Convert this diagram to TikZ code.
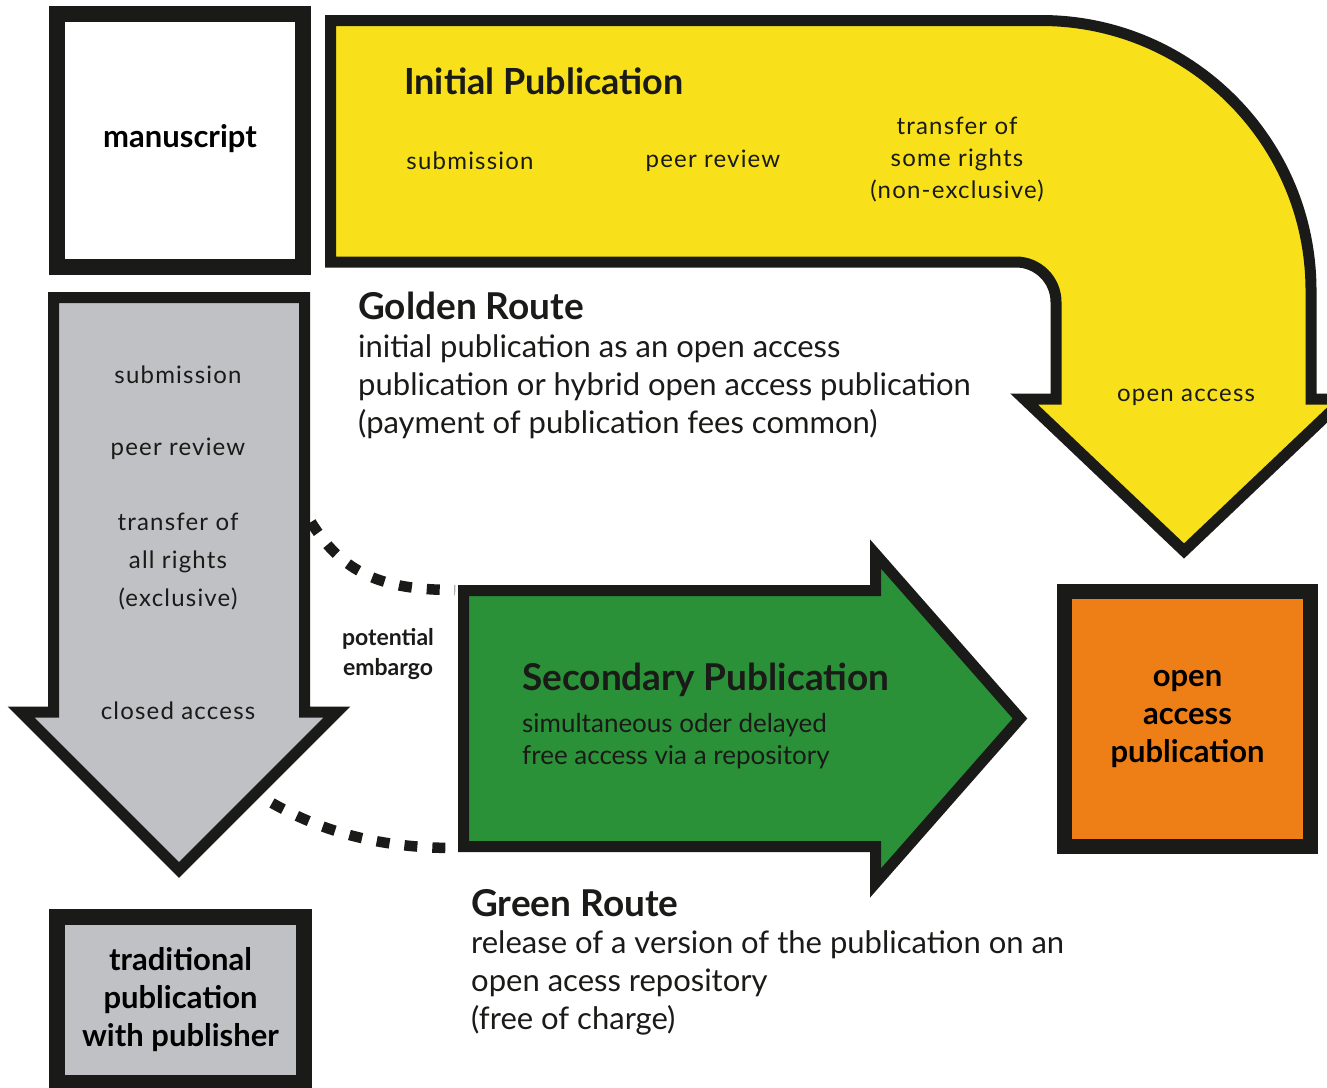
\documentclass[tikz,border=0pt]{standalone}
\usepackage{fontspec}
\setmainfont{Lato}
\usetikzlibrary{positioning}

\definecolor{oayellow}{HTML}{F8E11B}
\definecolor{oagreen}{HTML}{2B9138}
\definecolor{oaorange}{HTML}{EE7F16}
\definecolor{oagrey}{HTML}{C0C1C4}
\definecolor{oaink}{HTML}{1A1A18}

\begin{document}
\begin{tikzpicture}[x=1pt, y=-1pt,
    arrowline/.style = {draw=oaink, line width=11pt, line join=miter},
    box/.style = {draw=oaink, line width=16pt, inner sep=0pt, align=center,
      font=\fontsize{31}{38}\selectfont\bfseries},
    headtext/.style = {inner sep=0pt, anchor=west, text=oaink,
      font=\fontsize{37}{40}\selectfont\bfseries},
    bodytext/.style = {inner sep=0pt, anchor=west, align=left, text=oaink,
      font=\fontsize{31}{38}\selectfont},
    steptext/.style = {inner sep=0pt, align=center, text=oaink,
      font=\fontsize{24}{32}\selectfont\addfontfeature{LetterSpace=5}},
    embargo/.style = {draw=oaink, line width=10.5pt, dash pattern=on 13pt off 15pt}]
  \useasboundingbox (0,0) rectangle (1327,1087);

  % the three big arrows
  \draw [arrowline, fill=oayellow]
    (330.5,20.5) -- (1041,20.5)
    .. controls (1190,20.5) and (1311,141.5) .. (1311,290.5)
    -- (1311,399) -- (1344,399) -- (1184,551) -- (1024,399) -- (1056,399)
    -- (1056,302) .. controls (1056,280) and (1038,262) .. (1016,262)
    -- (330.5,262) -- cycle;
  \draw [arrowline, fill=oagrey]
    (53.5,297.5) -- (304.5,297.5) -- (304.5,712) -- (337,712)
    -- (179,870) -- (21,712) -- (53.5,712) -- cycle;
  \draw [arrowline, fill=oagreen]
    (463.5,590.5) -- (875.5,590.5) -- (875.5,554) -- (1020,718.5)
    -- (875.5,883) -- (875.5,846.5) -- (463.5,846.5) -- cycle;

  \node (manuscript) [box, fill=white, minimum width=246pt, minimum height=253pt]
    at (180,140.5) {\raisebox{8pt}{manuscript}};
  \node (traditional) [box, fill=oagrey, minimum width=247pt, minimum height=166pt]
    at (180.5,1000) {traditional\\publication\\with publisher};
  \node (oapub) [box, line width=15pt, fill=oaorange, minimum width=246pt,
    minimum height=255pt] at (1187.5,719) {open\\access\\publication};

  % initial publication
  \node (initial) [headtext, font=\fontsize{36}{40}\selectfont\bfseries] at (404,81) {Initial Publication};
  \node (ysubmit) [steptext] at (470,161) {submission};
  \node (yreview) [steptext] at (713,161) {peer review};
  \node (yrights) [steptext] at (957,160) {transfer of\\some rights\\(non-exclusive)};
  \node (yopen) [steptext] at (1186,397) {open access};

  % traditional route
  \node (gsubmit) [steptext] at (178,375) {submission};
  \node (greview) [steptext] at (178,449) {peer review};
  \node (grights) [steptext, font=\fontsize{24}{38}\selectfont\addfontfeature{LetterSpace=5}]
    at (178,562) {transfer of\\all rights\\(exclusive)};
  \node (gclosed) [steptext] at (178,711) {closed access};

  \node (golden) [headtext] at (358,306) {Golden Route};
  \node (goldentext) [bodytext] at (358,387)
    {initial publication as an open access\\publication or hybrid open access publication\\(payment of publication fees common)};

  \node (secondary) [headtext] at (522,680) {Secondary Publication};
  \node (secondarytext) [bodytext, font=\fontsize{26}{32}\selectfont] at (522,741)
    {simultaneous oder delayed\\free access via a repository};

  \node (green) [headtext] at (471,903) {Green Route};
  \node (greentext) [bodytext] at (471,982.5)
    {release of a version of the publication on an\\open acess repository\\(free of charge)};

  \node (potential) [steptext, font=\fontsize{23}{30}\selectfont\bfseries] at (388,654)
    {potential\\embargo};

  % embargo connectors
  \coordinate (greyside) at (311,522);
  \coordinate (greyhead) at (272,803);
  \coordinate (greentop) at (455,590);
  \coordinate (greenbottom) at (455,848);
  \draw [embargo] (greyside) .. controls (345,578) and (390,590) .. (greentop);
  \draw [embargo] (greyhead) .. controls (330,836) and (390,848) .. (greenbottom);
\end{tikzpicture}
\end{document}
